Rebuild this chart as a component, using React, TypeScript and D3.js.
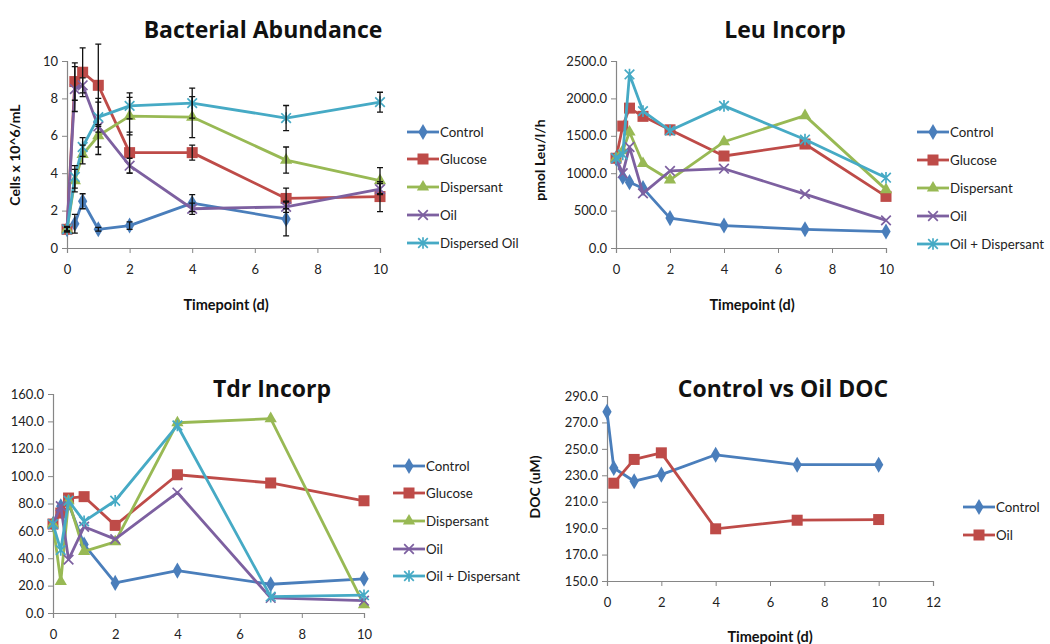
import React, { useEffect, useRef } from "react";
import * as d3 from "d3";

// sampling times (days)
const timepoints = [0, 0.25, 0.5, 1, 2, 4, 7, 10];
const docTimepoints = [0, 0.25, 1, 2, 4, 7, 10];

// Bacterial Abundance (cells x 10^6/mL)
const abLabels = ["Control", "Glucose", "Dispersant", "Oil", "Dispersed Oil"];
const abControl = [1.0, 1.3, 2.5, 1.0, 1.2, 2.4, 1.55];
const abGlucose = [1.0, 8.9, 9.4, 8.7, 5.1, 5.1, 2.65, 2.75];
const abDispersant = [1.0, 3.6, 5.0, 6.0, 7.05, 7.0, 4.7, 3.6];
const abOil = [1.0, 8.5, 8.7, 6.5, 4.4, 2.1, 2.2, 3.15];
const abDispersedOil = [1.0, 3.8, 5.4, 7.0, 7.6, 7.75, 6.95, 7.8];
const abControlErr = [0.1, 0.5, 0.4, 0.1, 0.2, 0.45, 0.9];
const abGlucoseErr = [0.15, 1.0, 1.3, 2.2, 1.1, 0.4, 0.55, 0.8];
const abDispersantErr = [0.1, 0.6, 0.5, 0.6, 1.0, 1.1, 0.7, 0.7];
const abOilErr = [0.1, 1.2, 0.4, 1.5, 0.4, 0.3, 0.3, 0.3];
const abDispersedOilErr = [0.1, 0.6, 0.5, 0.8, 0.7, 0.8, 0.67, 0.53];

// Leu incorporation (pmol Leu/l/h)
const leuLabels = ["Control", "Glucose", "Dispersant", "Oil", "Oil + Dispersant"];
const leuControl = [1200, 950, 880, 800, 400, 300, 250, 220];
const leuGlucose = [1200, 1630, 1870, 1760, 1580, 1230, 1390, 690];
const leuDispersant = [1200, 1300, 1550, 1130, 910, 1420, 1770, 780];
const leuOil = [1200, 1000, 1350, 730, 1030, 1060, 720, 370];
const leuOilDispersant = [1200, 1250, 2320, 1830, 1570, 1900, 1450, 940];

// Tdr incorporation
const tdrLabels = ["Control", "Glucose", "Dispersant", "Oil", "Oil + Dispersant"];
const tdrControl = [65, 78, 80, 50, 22, 31, 21, 25];
const tdrGlucose = [65, 73, 84, 85, 64, 101, 95, 82];
const tdrDispersant = [65, 23, 82, 45, 52, 139, 142, 6];
const tdrOil = [65, 78, 39, 63, 54, 88, 11, 9];
const tdrOilDispersant = [65, 46, 82, 67, 82, 137, 12, 13];

// DOC (uM)
const docLabels = ["Control", "Oil"];
const docControl = [278, 235.5, 225.5, 230.5, 245.5, 238, 238];
const docOil = [null, 224, 242, 247, 189.5, 196, 196.5];

const colors = ["#4a7ebb", "#be4b48", "#98b954", "#7d60a0", "#46aac5"];
const markers = ["diamond", "square", "triangle", "cross", "star"];
const font = "Lato, 'Open Sans', sans-serif";
const titleFont = "'Open Sans', Lato, sans-serif";

const panels = [
  {
    title: "Bacterial Abundance", titleX: 263, titleY: 38,
    x0: 67, x1: 380, top: 61, bottom: 248,
    xDomain: [0, 10], xTicks: [0, 2, 4, 6, 8, 10],
    yDomain: [0, 10], yTicks: d3.range(0, 11, 2), yFormat: d3.format("d"),
    xTitle: "Timepoint (d)", xTitleX: 226, xTitleY: 310,
    yTitle: "Cells x 10^6/mL", yTitleX: 20, yTitleY: 155,
    legendX: 407, legendY: [132, 159, 187, 215, 243],
    labels: abLabels,
    xs: timepoints,
    series: [abControl, abGlucose, abDispersant, abOil, abDispersedOil],
    errors: [abControlErr, abGlucoseErr, abDispersantErr, abOilErr, abDispersedOilErr],
  },
  {
    title: "Leu Incorp", titleX: 785, titleY: 38,
    x0: 616, x1: 886, top: 61, bottom: 248,
    xDomain: [0, 10], xTicks: [0, 2, 4, 6, 8, 10],
    yDomain: [0, 2500], yTicks: d3.range(0, 2501, 500), yFormat: d3.format(".1f"),
    xTitle: "Timepoint (d)", xTitleX: 752, xTitleY: 310,
    yTitle: "pmol Leu/l/h", yTitleX: 545, yTitleY: 160,
    legendX: 917, legendY: [132, 160, 188, 216, 244],
    labels: leuLabels,
    xs: timepoints,
    series: [leuControl, leuGlucose, leuDispersant, leuOil, leuOilDispersant],
  },
  {
    title: "Tdr Incorp", titleX: 272, titleY: 397,
    x0: 53, x1: 364, top: 394, bottom: 613,
    xDomain: [0, 10], xTicks: [0, 2, 4, 6, 8, 10],
    yDomain: [0, 160], yTicks: d3.range(0, 161, 20), yFormat: d3.format(".1f"),
    legendX: 393, legendY: [466, 493, 521, 549, 576],
    labels: tdrLabels,
    xs: timepoints,
    series: [tdrControl, tdrGlucose, tdrDispersant, tdrOil, tdrOilDispersant],
  },
  {
    title: "Control vs Oil DOC", titleX: 783, titleY: 397,
    x0: 607, x1: 933, top: 396, bottom: 581,
    xDomain: [0, 12], xTicks: d3.range(0, 13, 2),
    yDomain: [150, 290], yTicks: d3.range(150, 291, 20), yFormat: d3.format(".1f"),
    xTitle: "Timepoint (d)", xTitleX: 770, xTitleY: 642,
    yTitle: "DOC (uM)", yTitleX: 540, yTitleY: 487,
    legendX: 963, legendY: [507, 535],
    labels: docLabels,
    xs: docTimepoints,
    series: [docControl, docOil],
  },
];

function drawMarker(g, type, x, y, color) {
  if (type === "diamond") {
    g.append("path").attr("d", d3.symbol(d3.symbolDiamond, 75)())
      .attr("transform", `translate(${x},${y})`).attr("fill", color);
  } else if (type === "square") {
    g.append("rect").attr("x", x - 5.5).attr("y", y - 5.5).attr("width", 11).attr("height", 11)
      .attr("fill", color);
  } else if (type === "triangle") {
    g.append("path").attr("d", d3.symbol(d3.symbolTriangle, 65)())
      .attr("transform", `translate(${x},${y})`).attr("fill", color);
  } else {
    const s = 4.8;
    const p = d3.path();
    p.moveTo(x - s, y - s); p.lineTo(x + s, y + s);
    p.moveTo(x - s, y + s); p.lineTo(x + s, y - s);
    if (type === "star") { p.moveTo(x, y - s - 1); p.lineTo(x, y + s + 1); }
    g.append("path").attr("d", p.toString()).attr("stroke", color)
      .attr("stroke-width", 1.7).attr("fill", "none");
  }
}

const App = () => {
  const svgRef = useRef();

  useEffect(() => {
    const svg = d3.select(svgRef.current);
    svg.selectAll("*").remove();

    panels.forEach((p) => {
      const g = svg.append("g");
      const x = d3.scaleLinear().domain(p.xDomain).range([p.x0, p.x1]);
      const y = d3.scaleLinear().domain(p.yDomain).range([p.bottom, p.top]);

      // title
      g.append("text").attr("x", p.titleX).attr("y", p.titleY)
        .attr("text-anchor", "middle").attr("font-family", titleFont)
        .attr("font-weight", "bold").attr("font-size", 23).attr("fill", "#111")
        .text(p.title);

      // axes
      const xAxis = g.append("g").attr("transform", `translate(0,${p.bottom})`)
        .call(d3.axisBottom(x).tickValues(p.xTicks).tickSize(5).tickPadding(12).tickFormat(d3.format("d")));
      const yAxis = g.append("g").attr("transform", `translate(${p.x0},0)`)
        .call(d3.axisLeft(y).tickValues(p.yTicks).tickSize(5).tickPadding(4).tickFormat(p.yFormat));
      [xAxis, yAxis].forEach((a) => {
        a.select(".domain").attr("stroke", "#868686").attr("stroke-width", 1.2);
        a.selectAll(".tick line").attr("stroke", "#868686");
        a.selectAll(".tick text").attr("font-family", font).attr("font-size", 13).attr("fill", "#222");
      });

      if (p.xTitle) {
        g.append("text").attr("x", p.xTitleX).attr("y", p.xTitleY).attr("text-anchor", "middle")
          .attr("font-family", font).attr("font-weight", "bold").attr("font-size", 14.5).attr("fill", "#111")
          .text(p.xTitle);
      }
      if (p.yTitle) {
        g.append("text").attr("transform", `translate(${p.yTitleX},${p.yTitleY}) rotate(-90)`)
          .attr("text-anchor", "middle").attr("font-family", font).attr("font-weight", "bold")
          .attr("font-size", 14).attr("fill", "#111").text(p.yTitle);
      }

      // series
      p.series.forEach((vals, i) => {
        const pts = vals.map((v, j) => ({ t: p.xs[j], v })).filter((d) => d.v !== null);
        const line = d3.line().x((d) => x(d.t)).y((d) => y(d.v));
        g.append("path").datum(pts).attr("fill", "none").attr("stroke", colors[i])
          .attr("stroke-width", 2.8).attr("stroke-linejoin", "round").attr("d", line);
        pts.forEach((d) => drawMarker(g, markers[i], x(d.t), y(d.v), colors[i]));
      });

      // error bars
      if (p.errors) {
        p.errors.forEach((errs, i) => {
          errs.forEach((e, j) => {
            const cx = x(p.xs[j]);
            const v = p.series[i][j];
            const yt = Math.max(y(v + e), 44);
            const yb = y(v - e);
            const eb = d3.path();
            eb.moveTo(cx, yt); eb.lineTo(cx, yb);
            eb.moveTo(cx - 3, yt); eb.lineTo(cx + 3, yt);
            eb.moveTo(cx - 3, yb); eb.lineTo(cx + 3, yb);
            g.append("path").attr("d", eb.toString()).attr("stroke", "#111")
              .attr("stroke-width", 1.3).attr("fill", "none");
          });
        });
      }

      // legend
      p.labels.forEach((lab, i) => {
        const ly = p.legendY[i];
        g.append("line").attr("x1", p.legendX).attr("x2", p.legendX + 32)
          .attr("y1", ly).attr("y2", ly).attr("stroke", colors[i]).attr("stroke-width", 2.8);
        drawMarker(g, markers[i], p.legendX + 16, ly, colors[i]);
        g.append("text").attr("x", p.legendX + 33).attr("y", ly).attr("dy", "0.35em")
          .attr("font-family", font).attr("font-size", 13.3).attr("fill", "#222").text(lab);
      });
    });
  }, []);

  return (
    <svg
      ref={svgRef}
      width={1050}
      height={644}
      style={{ position: "absolute", left: 0, top: 0, background: "#fff" }}
    />
  );
};

export default App;
